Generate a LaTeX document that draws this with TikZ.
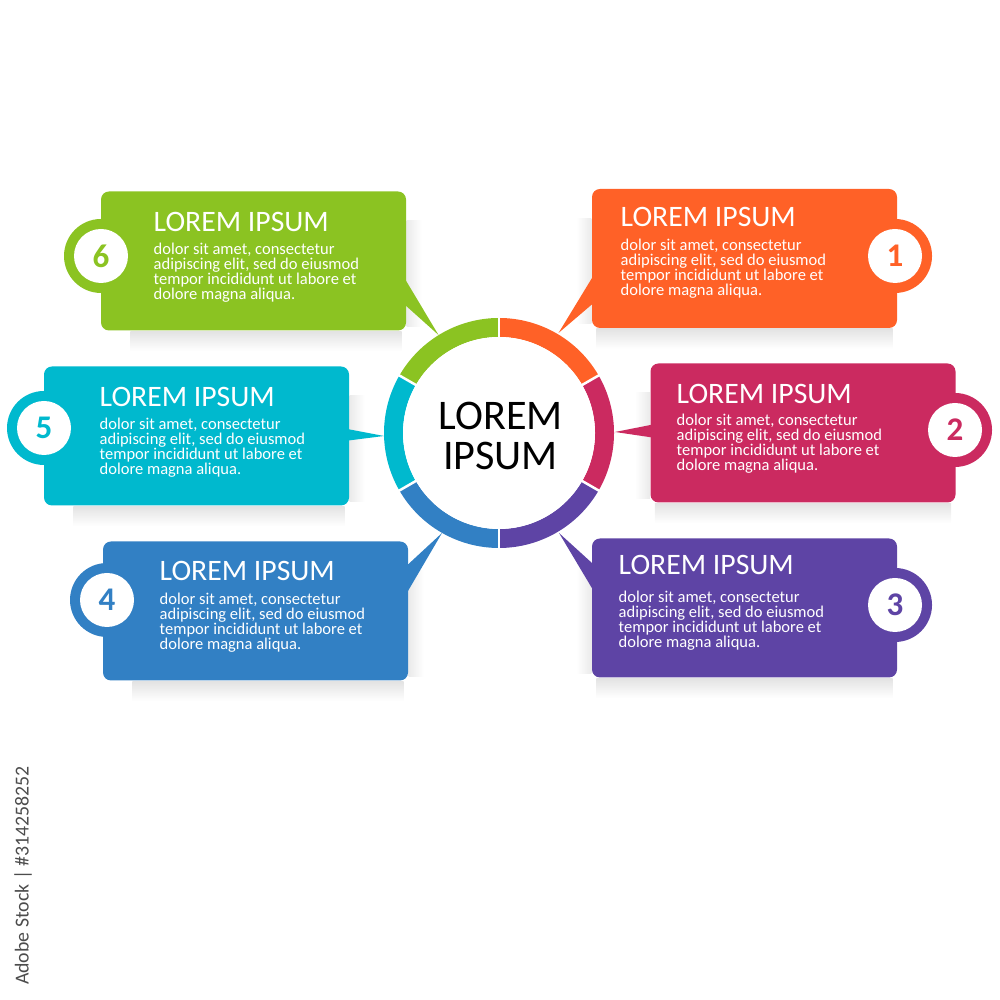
\documentclass[tikz,border=0pt]{standalone}
\usepackage{fontspec}
\setmainfont{Carlito}
\usetikzlibrary{positioning,calc}
\definecolor{orangeA}{HTML}{FF6127}
\definecolor{crimsonB}{HTML}{CB2A60}
\definecolor{purpleC}{HTML}{5E44A5}
\definecolor{blueD}{HTML}{3280C4}
\definecolor{tealE}{HTML}{00B9CE}
\definecolor{greenF}{HTML}{8BC322}

\begin{document}
\begin{tikzpicture}[
    panel/.style={rectangle, rounded corners=0.08cm, minimum width=3.05cm, minimum height=1.39cm, inner sep=0pt},
    tab/.style={circle, minimum size=0.74cm, inner sep=0pt},
    badge/.style={circle, fill=white, minimum size=0.54cm, inner sep=0pt, font=\fontsize{9.4}{9.4}\selectfont\bfseries},
    heading/.style={anchor=base west, inner sep=0pt, text=white, font=\fontsize{8.45}{8.45}\selectfont},
    body/.style={anchor=north west, inner sep=0pt, align=left, text=white, font=\fontsize{4.7}{4.27}\selectfont},
    segment/.style={line width=0.19cm},
    gap/.style={draw=white, line width=0.025cm},
    falloff/.style={top color=black!11, bottom color=white, draw=none},
    falloffL/.style={right color=black!8, left color=white, draw=none},
    falloffR/.style={left color=black!8, right color=white, draw=none}
]
\useasboundingbox (0,0) rectangle (10,10);

% Panels, named clockwise from the top right
\coordinate (hubC) at (4.99,5.67);
\node[panel] (boxA) at (7.445,7.415) {};
\node[panel] (boxB) at (8.03,5.67) {};
\node[panel] (boxC) at (7.445,3.92) {};
\node[panel] (boxD) at (2.555,3.89) {};
\node[panel] (boxE) at (1.965,5.64) {};
\node[panel] (boxF) at (2.535,7.39) {};

% Soft shadows on the sides facing the ring
\shade[falloff] ($(boxA.south west)+(0.05,0)$) rectangle ($(boxA.south east)+(-0.05,-0.2)$);
\shade[falloff] ($(boxB.south west)+(0.05,0)$) rectangle ($(boxB.south east)+(-0.05,-0.2)$);
\shade[falloff] ($(boxC.south west)+(0.05,0)$) rectangle ($(boxC.south east)+(-0.05,-0.2)$);
\shade[falloff] ($(boxD.south west)+(0.3,0)$) rectangle ($(boxD.south east)+(-0.05,-0.2)$);
\shade[falloff] ($(boxE.south west)+(0.3,0)$) rectangle ($(boxE.south east)+(-0.05,-0.2)$);
\shade[falloff] ($(boxF.south west)+(0.3,0)$) rectangle ($(boxF.south east)+(-0.05,-0.2)$);
\shade[falloffL] ($(boxA.south west)+(-0.15,0.05)$) rectangle ($(boxA.north west)+(0,-0.3)$);
\shade[falloffL] ($(boxB.south west)+(-0.15,0.05)$) rectangle ($(boxB.north west)+(0,-0.3)$);
\shade[falloffL] ($(boxC.south west)+(-0.15,0.05)$) rectangle ($(boxC.north west)+(0,-0.3)$);
\shade[falloffR] ($(boxD.south east)+(0.15,0.05)$) rectangle ($(boxD.north east)+(0,-0.3)$);
\shade[falloffR] ($(boxE.south east)+(0.15,0.05)$) rectangle ($(boxE.north east)+(0,-0.3)$);
\shade[falloffR] ($(boxF.south east)+(0.15,0.05)$) rectangle ($(boxF.north east)+(0,-0.3)$);

% Round tabs behind the panels
\node[tab, fill=orangeA] (tabA) at (8.95,7.44) {};
\node[tab, fill=crimsonB] (tabB) at (9.55,5.70) {};
\node[tab, fill=purpleC] (tabC) at (8.95,3.95) {};
\node[tab, fill=blueD] (tabD) at (1.07,4.00) {};
\node[tab, fill=tealE] (tabE) at (0.44,5.72) {};
\node[tab, fill=greenF] (tabF) at (1.01,7.44) {};

% Pointers towards the ring, their bases run on under the panels
\coordinate (tipA) at (5.585,6.67);
\coordinate (tipB) at (6.15,5.68);
\coordinate (tipC) at (5.59,4.67);
\coordinate (tipD) at (4.42,4.67);
\coordinate (tipE) at (3.84,5.64);
\coordinate (tipF) at (4.385,6.65);
\fill[orangeA] (tipA) -- ([xshift=0.1cm]$(boxA.south west)!0.23!(boxA.north west)$) -- ([xshift=0.1cm]$(boxA.south west)!0.47!(boxA.north west)$) -- cycle;
\fill[crimsonB] (tipB) -- ([xshift=0.1cm]$(boxB.south west)!0.46!(boxB.north west)$) -- ([xshift=0.1cm]$(boxB.south west)!0.57!(boxB.north west)$) -- cycle;
\fill[purpleC] (tipC) -- ([xshift=0.1cm]$(boxC.north west)!0.24!(boxC.south west)$) -- ([xshift=0.1cm]$(boxC.north west)!0.47!(boxC.south west)$) -- cycle;
\fill[blueD] (tipD) -- ([xshift=-0.1cm]$(boxD.north east)!0.23!(boxD.south east)$) -- ([xshift=-0.1cm]$(boxD.north east)!0.47!(boxD.south east)$) -- cycle;
\fill[tealE] (tipE) -- ([xshift=-0.1cm]$(boxE.south east)!0.46!(boxE.north east)$) -- ([xshift=-0.1cm]$(boxE.south east)!0.56!(boxE.north east)$) -- cycle;
\fill[greenF] (tipF) -- ([xshift=-0.1cm]$(boxF.south east)!0.24!(boxF.north east)$) -- ([xshift=-0.1cm]$(boxF.south east)!0.47!(boxF.north east)$) -- cycle;

% Panels filled on top of the tabs and pointers
\node[panel, fill=orangeA] at (boxA) {};
\node[panel, fill=crimsonB] at (boxB) {};
\node[panel, fill=purpleC] at (boxC) {};
\node[panel, fill=blueD] at (boxD) {};
\node[panel, fill=tealE] at (boxE) {};
\node[panel, fill=greenF] at (boxF) {};

% Ring
\draw[segment, orangeA] ($(hubC)+(90:1.055)$) arc (90:30:1.055);
\draw[segment, crimsonB] ($(hubC)+(30:1.055)$) arc (30:-30:1.055);
\draw[segment, purpleC] ($(hubC)+(-30:1.055)$) arc (-30:-90:1.055);
\draw[segment, blueD] ($(hubC)+(-90:1.055)$) arc (-90:-150:1.055);
\draw[segment, tealE] ($(hubC)+(-150:1.055)$) arc (-150:-210:1.055);
\draw[segment, greenF] ($(hubC)+(150:1.055)$) arc (150:90:1.055);

% White gaps between the segments
\draw[gap] ($(hubC)+(90:0.9)$) -- ($(hubC)+(90:1.2)$);
\draw[gap] ($(hubC)+(-90:0.9)$) -- ($(hubC)+(-90:1.2)$);
\draw[gap] ($(hubC)+(30:0.9)$) -- ($(hubC)+(30:1.2)$);
\draw[gap] ($(hubC)+(-30:0.9)$) -- ($(hubC)+(-30:1.2)$);
\draw[gap] ($(hubC)+(150:0.9)$) -- ($(hubC)+(150:1.2)$);
\draw[gap] ($(hubC)+(-150:0.9)$) -- ($(hubC)+(-150:1.2)$);
\node[circle, fill=white, minimum size=1.92cm, inner sep=0pt] (hub) at (hubC) {};
\node[align=center, inner sep=0pt, font=\fontsize{12}{11.6}\selectfont] (hubText) at (5.005,5.64) {LOREM\\IPSUM};

% Numbers
\node[badge, text=orangeA] (numA) at (tabA) {1};
\node[badge, text=crimsonB] (numB) at (tabB) {2};
\node[badge, text=purpleC] (numC) at (tabC) {3};
\node[badge, text=blueD] (numD) at (tabD) {4};
\node[badge, text=tealE] (numE) at (tabE) {5};
\node[badge, text=greenF] (numF) at (tabF) {6};

% Headings
\node[heading] (headA) at (6.20,7.73) {LOREM IPSUM};
\node[heading] (headB) at (6.76,5.96) {LOREM IPSUM};
\node[heading] (headC) at (6.18,4.25) {LOREM IPSUM};
\node[heading] (headD) at (1.59,4.19) {LOREM IPSUM};
\node[heading] (headE) at (0.99,5.93) {LOREM IPSUM};
\node[heading] (headF) at (1.53,7.68) {LOREM IPSUM};

% Body text
\node[body] (textA) at (6.20,7.62) {dolor sit amet, consectetur\\adipiscing elit, sed do eiusmod\\tempor incididunt ut labore et\\dolore magna aliqua.};
\node[body] (textB) at (6.76,5.87) {dolor sit amet, consectetur\\adipiscing elit, sed do eiusmod\\tempor incididunt ut labore et\\dolore magna aliqua.};
\node[body] (textC) at (6.18,4.10) {dolor sit amet, consectetur\\adipiscing elit, sed do eiusmod\\tempor incididunt ut labore et\\dolore magna aliqua.};
\node[body] (textD) at (1.59,4.08) {dolor sit amet, consectetur\\adipiscing elit, sed do eiusmod\\tempor incididunt ut labore et\\dolore magna aliqua.};
\node[body] (textE) at (0.99,5.83) {dolor sit amet, consectetur\\adipiscing elit, sed do eiusmod\\tempor incididunt ut labore et\\dolore magna aliqua.};
\node[body] (textF) at (1.53,7.58) {dolor sit amet, consectetur\\adipiscing elit, sed do eiusmod\\tempor incididunt ut labore et\\dolore magna aliqua.};

% Side line
\node[rotate=90, text=black!70, font=\fontsize{5.64}{5.64}\selectfont] (credit) at (0.23,1.245) {Adobe Stock | \#314258252};

\end{tikzpicture}
\end{document}
